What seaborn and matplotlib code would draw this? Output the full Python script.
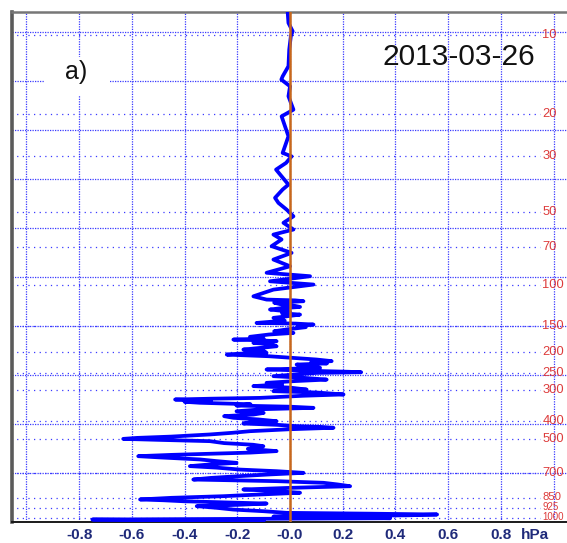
import matplotlib
matplotlib.use("Agg")
import matplotlib.pyplot as plt
import matplotlib.patches as mpatches
import numpy as np
import pandas as pd
import seaborn as sns

# ---- data ----
height_km = [31.4, 31.22, 30.53, 30.02, 29.71, 28.90, 27.88, 27.26, 27.06, 26.65, 26.04,
             25.22, 24.81, 24.20, 23.59, 22.98, 22.57, 22.36, 21.96, 21.55, 21.14,
             20.63, 20.33, 19.82, 19.51, 19.10, 18.69, 18.29, 17.88, 17.57, 17.27,
             16.86, 16.45, 16.04, 15.63, 15.23, 15.02, 14.71, 14.51, 14.20, 13.79,
             13.59, 13.54, 13.49, 13.40, 13.29, 13.20, 13.14, 13.05, 12.98, 12.85,
             12.75, 12.67, 12.55, 12.47, 12.30, 12.20, 12.16, 12.12, 12.06, 12.00,
             11.90, 11.76, 11.65, 11.55, 11.45, 11.31, 11.20, 11.14, 11.10, 11.04,
             10.94, 10.85, 10.73, 10.62, 10.53, 10.45, 10.33, 10.27, 10.22, 10.12,
             10.02, 9.92, 9.82, 9.75, 9.68, 9.61, 9.50, 9.41, 9.35, 9.31,
             9.22, 9.17, 9.14, 9.10, 9.00, 8.90, 8.80, 8.69, 8.60, 8.49,
             8.40, 8.29, 8.20, 8.08, 7.98, 7.90, 7.83, 7.78, 7.70, 7.57,
             7.52, 7.47, 7.40, 7.33, 7.27, 7.18, 7.10, 7.03, 6.96, 6.88,
             6.75, 6.65, 6.55, 6.45, 6.35, 6.25, 6.14, 6.07, 6.00, 5.92,
             5.84, 5.79, 5.74, 5.65, 5.53, 5.43, 5.33, 5.20, 5.12, 5.06,
             5.00, 4.92, 4.80, 4.70, 4.61, 4.45, 4.31, 4.22, 4.16, 4.08,
             4.00, 3.93, 3.80, 3.70, 3.59, 3.50, 3.39, 3.30, 3.18, 3.08,
             2.98, 2.88, 2.78, 2.67, 2.57, 2.47, 2.37, 2.27, 2.16, 2.06,
             1.96, 1.86, 1.76, 1.65, 1.55, 1.45, 1.35, 1.30, 1.24, 1.17,
             1.10, 1.02, 0.94, 0.84, 0.73, 0.63, 0.53, 0.48, 0.43, 0.38,
             0.30, 0.25, 0.20, 0.16, 0.12, 0.02]
diff_hpa = [-0.009, -0.009, -0.006, 0.010, 0.003, -0.003, -0.006, -0.028, -0.033, 0.000, -0.006,
            0.013, -0.032, -0.019, -0.006, -0.019, -0.028, 0.006, -0.015, -0.053, -0.032,
            -0.006, -0.028, -0.057, -0.044, -0.013, 0.013, -0.025, 0.013, -0.063, -0.032,
            -0.070, 0.006, -0.063, 0.000, -0.089, 0.076, -0.076, 0.089, -0.063, -0.139,
            -0.089, 0.020, 0.051, -0.060, -0.032, 0.020, 0.038, -0.040, -0.076, 0.000,
            -0.030, 0.038, -0.020, -0.063, -0.020, -0.100, -0.127, 0.020, 0.089, 0.030,
            0.060, -0.013, -0.060, 0.013, -0.080, -0.152, -0.100, -0.215, -0.120, -0.051,
            -0.139, -0.070, -0.051, -0.120, -0.177, -0.100, -0.089, -0.200, -0.240, -0.080,
            0.013, 0.100, 0.158, 0.080, 0.140, 0.025, 0.090, 0.114, 0.000, -0.089,
            0.100, 0.220, 0.270, 0.100, 0.020, -0.063, 0.050, 0.139, 0.020, -0.089,
            -0.030, -0.139, 0.000, 0.063, -0.063, 0.100, 0.160, 0.203, 0.050, -0.114,
            -0.300, -0.436, -0.300, -0.400, -0.342, -0.150, -0.203, 0.000, 0.089, -0.100,
            -0.203, -0.100, -0.139, -0.250, -0.215, -0.120, -0.051, -0.150, -0.177, -0.050,
            0.025, 0.120, 0.165, 0.000, -0.152, -0.220, -0.304, -0.450, -0.580, -0.633,
            -0.500, -0.304, -0.250, -0.140, -0.101, -0.160, -0.051, -0.150, -0.278, -0.450,
            -0.576, -0.500, -0.342, -0.280, -0.203, -0.300, -0.380, -0.280, -0.190, -0.050,
            0.051, -0.080, -0.190, -0.300, -0.367, -0.050, 0.127, 0.180, 0.228, 0.000,
            -0.177, -0.050, 0.038, -0.120, -0.253, -0.450, -0.569, -0.480, -0.405, -0.250,
            -0.089, -0.200, -0.354, -0.280, -0.215, -0.100, -0.013, 0.300, 0.558, 0.450,
            -0.063, 0.200, 0.380, -0.200, -0.750, -0.100]

p_levels = ["10", "20", "30", "50", "70", "100", "150", "200", "250", "300",
            "400", "500", "700", "850", "925", "1000"]
p_heights_km = [29.80, 24.98, 22.40, 18.98, 16.78, 14.50, 12.00, 10.35, 9.12, 8.08,
                6.18, 5.08, 3.00, 1.41, 0.80, 0.24]

x_ticks = [-0.8, -0.6, -0.4, -0.2, 0.0, 0.2, 0.4, 0.6, 0.8]
x_tick_labels = ["-0.8", "-0.6", "-0.4", "-0.2", "-0.0", "0.2", "0.4", "0.6", "0.8"]
x_grid = [-1.0, -0.8, -0.6, -0.4, -0.2, 0.0, 0.2, 0.4, 0.6, 0.8, 1.0]
alt_grid_km = [0, 3, 6, 9, 12, 15, 18, 21, 24, 27, 30]

date_label = "2013-03-26"
panel_label = "a)"
unit_label = "hPa"

# ---- style ----
sns.set_theme(style="white")
plt.rcParams["font.family"] = ["Liberation Sans", "DejaVu Sans"]

W, H = 567, 543
fig = plt.figure(figsize=(W / 100, H / 100), dpi=100)
ax = fig.add_axes([12 / W, 1 - 521.5 / H, 1 - 12 / W, (521.5 - 12) / H])
ax.set_facecolor("white")

grid_col = "#3a3aff"
for xv in x_grid:
    ax.axvline(xv, color=grid_col, lw=0.9, ls=(0, (1, 1)), zorder=1)
for hv in alt_grid_km:
    ax.axhline(hv, color=grid_col, lw=0.9, ls=(0, (1, 1)), zorder=1)
ax.hlines(p_heights_km, -1.06, 0.950, colors=grid_col, lw=0.9,
          linestyles=[(0, (1, 3.5))], zorder=1)

df = pd.DataFrame({"diff": diff_hpa, "h": height_km})
sns.lineplot(data=df, x="diff", y="h", sort=False, estimator=None,
             color="#0000ff", lw=2.7, ax=ax, zorder=3)

ax.axvline(0.0, color="#c8681c", lw=1.8, zorder=4)

ax.set_xlim(-1.055, 1.051)
ax.set_ylim(0.0, 31.2)
ax.set_xlabel("")
ax.set_ylabel("")
ax.set_yticks([])
ax.set_xticks(x_ticks)
ax.set_xticklabels(x_tick_labels, fontsize=11, fontweight="bold", color="#1f2a7a")
ax.tick_params(axis="x", length=0, pad=4.5)

ax.text(0.8 + 0.075, -0.026, unit_label, transform=ax.get_xaxis_transform(),
        fontsize=11, fontweight="bold", color="#1f2a7a", ha="left", va="center")

label_size = {"850": 8.2, "925": 7.0, "1000": 7.0}
label_dy = {"850": 0.08, "925": 0.08, "1000": 0.05}
for lab, hv in zip(p_levels, p_heights_km):
    fs = label_size.get(lab, 9.3)
    ax.text(0.957, hv + label_dy.get(lab, 0.0), lab, fontsize=fs, color="#dd3b3b",
            ha="left", va="center", zorder=5)

rect = mpatches.Rectangle((45 / W, 1 - 95 / H), 65 / W, 38 / H,
                          transform=fig.transFigure, facecolor="white",
                          edgecolor="none", zorder=2)
ax.add_patch(rect)
fig.text(76 / W, 1 - 72 / H, panel_label, fontsize=18, color="#111111",
         ha="center", va="center")
fig.text(459 / W, 1 - 57 / H, date_label, fontsize=21.5, color="#111111",
         ha="center", va="center")

ax.spines["right"].set_visible(False)
ax.spines["left"].set_color("#5a5a5a")
ax.spines["left"].set_linewidth(2.6)
ax.spines["top"].set_color("#777777")
ax.spines["top"].set_linewidth(1.8)
ax.spines["bottom"].set_color("#1a1a1a")
ax.spines["bottom"].set_linewidth(1.4)

fig.savefig("out.png", dpi=100, facecolor="white")
